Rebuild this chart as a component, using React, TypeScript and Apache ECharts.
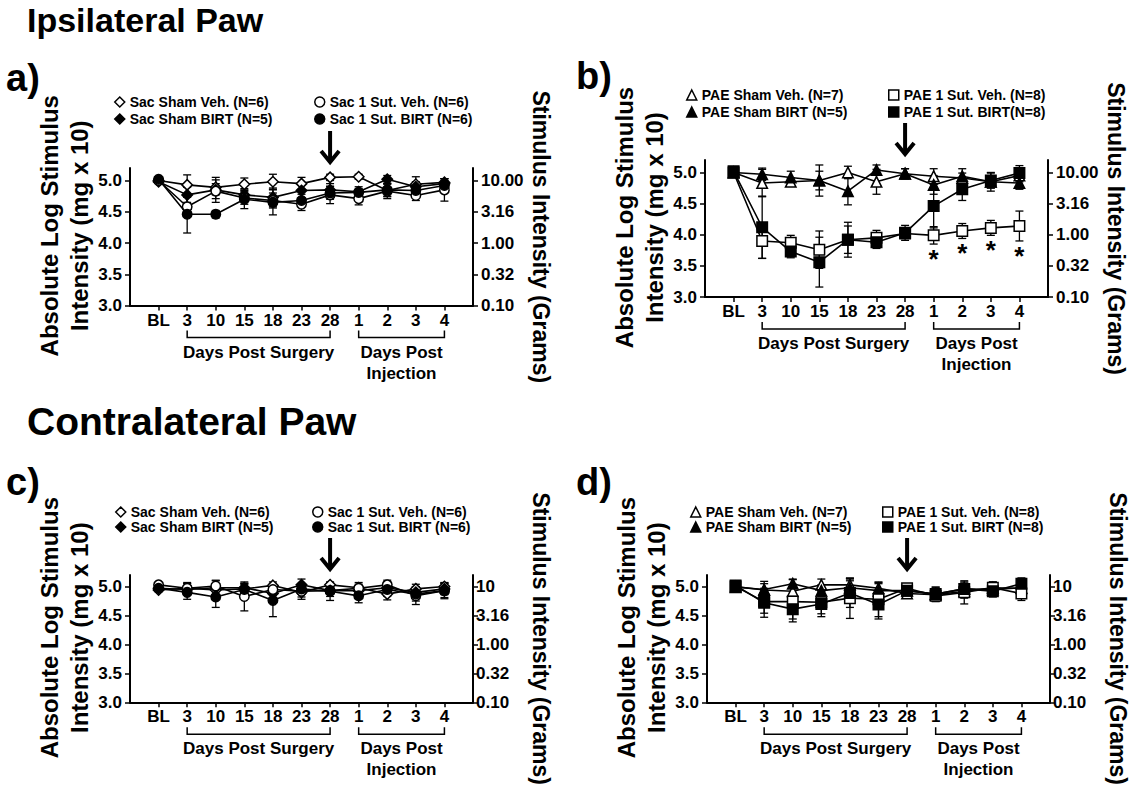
import React, { useEffect, useRef } from 'react';
import * as echarts from 'echarts';

const FONT = "'Liberation Sans', Arial, Helvetica, sans-serif";

// ---------- axis / tick labels ----------
const xLabels = ['BL', '3', '10', '15', '18', '23', '28', '1', '2', '3', '4'];
const xIndex = [0, 1, 2, 3, 4, 5, 6, 7, 8, 9, 10];
const yTicks = [3.0, 3.5, 4.0, 4.5, 5.0];
const rightLabelsTop = ['0.10', '0.32', '1.00', '3.16', '10.00'];
const rightLabelsBottom = ['0.10', '0.32', '1.00', '3.16', '10'];
const bracketRanges = [[1, 6], [7, 10]];
const bracketLabels = ['Days Post Surgery', 'Days Post\nInjection'];
const injectionDayIndex = 6;
const sigIndexB = [7, 8, 9, 10];

// ---------- series names ----------
const sacNames = ['Sac Sham Veh. (N=6)', 'Sac Sham BIRT (N=5)', 'Sac 1 Sut. Veh. (N=6)', 'Sac 1 Sut. BIRT (N=6)'];
const paeNamesB = ['PAE Sham Veh. (N=7)', 'PAE Sham BIRT (N=5)', 'PAE 1 Sut. Veh. (N=8)', 'PAE 1 Sut. BIRT(N=8)'];
const paeNamesD = ['PAE Sham Veh. (N=7)', 'PAE Sham BIRT (N=5)', 'PAE 1 Sut. Veh. (N=8)', 'PAE 1 Sut. BIRT (N=8)'];

// ---------- panel a (ipsilateral, Sac) ----------
const aShamVeh = [5.00, 4.93, 4.89, 4.94, 4.98, 4.95, 5.05, 5.06, 4.84, 4.94, 4.97];
const aShamVehErr = [0.04, 0.16, 0.12, 0.10, 0.12, 0.10, 0.05, 0.04, 0.10, 0.12, 0.06];
const aShamBirt = [4.98, 4.77, 4.85, 4.77, 4.73, 4.84, 4.85, 4.82, 5.02, 4.90, 4.95];
const aShamBirtErr = [0.03, 0.12, 0.20, 0.10, 0.15, 0.12, 0.10, 0.08, 0.06, 0.08, 0.08];
const aSutVeh = [5.00, 4.58, 4.83, 4.72, 4.68, 4.62, 4.77, 4.71, 4.83, 4.76, 4.85];
const aSutVehErr = [0.04, 0.15, 0.12, 0.10, 0.12, 0.10, 0.14, 0.10, 0.12, 0.08, 0.18];
const aSutBirt = [5.02, 4.46, 4.46, 4.70, 4.65, 4.68, 4.80, 4.81, 4.85, 4.84, 4.92];
const aSutBirtErr = [0.04, 0.30, 0.06, 0.15, 0.20, 0.10, 0.10, 0.06, 0.10, 0.10, 0.08];

// ---------- panel b (ipsilateral, PAE) ----------
const bShamVeh = [5.00, 4.83, 4.85, 4.87, 5.00, 4.85, 4.98, 4.94, 4.91, 4.85, 4.95];
const bShamVehErr = [0.03, 0.22, 0.06, 0.15, 0.10, 0.20, 0.08, 0.12, 0.08, 0.10, 0.10];
const bShamBirt = [5.00, 4.97, 4.92, 4.87, 4.70, 5.04, 4.98, 4.80, 4.94, 4.85, 4.83];
const bShamBirtErr = [0.03, 0.10, 0.10, 0.25, 0.22, 0.08, 0.08, 0.15, 0.12, 0.15, 0.10];
const bSutVeh = [5.00, 3.90, 3.87, 3.76, 3.92, 3.95, 4.02, 3.99, 4.06, 4.11, 4.14];
const bSutVehErr = [0.03, 0.28, 0.12, 0.30, 0.22, 0.12, 0.08, 0.14, 0.12, 0.12, 0.24];
const bSutBirt = [5.02, 4.12, 3.73, 3.56, 3.92, 3.88, 4.03, 4.46, 4.73, 4.87, 4.99];
const bSutBirtErr = [0.03, 0.50, 0.10, 0.40, 0.28, 0.10, 0.12, 0.35, 0.18, 0.12, 0.12];

// ---------- panel c (contralateral, Sac) ----------
const cShamVeh = [4.94, 4.97, 4.94, 4.96, 5.02, 4.90, 5.03, 4.98, 4.87, 4.96, 5.00];
const cShamVehErr = [0.03, 0.08, 0.10, 0.08, 0.06, 0.12, 0.04, 0.06, 0.10, 0.08, 0.06];
const cShamBirt = [4.97, 4.95, 4.98, 4.98, 4.88, 5.03, 4.93, 4.93, 4.98, 4.90, 4.96];
const cShamBirtErr = [0.03, 0.10, 0.12, 0.08, 0.12, 0.10, 0.10, 0.08, 0.10, 0.10, 0.10];
const cSutVeh = [5.03, 4.97, 5.01, 4.83, 4.95, 4.92, 4.93, 4.97, 5.03, 4.84, 4.93];
const cSutVehErr = [0.03, 0.10, 0.10, 0.25, 0.10, 0.10, 0.06, 0.10, 0.08, 0.15, 0.12];
const cSutBirt = [4.97, 4.90, 4.82, 4.95, 4.76, 4.96, 4.92, 4.84, 4.95, 4.87, 4.93];
const cSutBirtErr = [0.03, 0.12, 0.18, 0.10, 0.28, 0.08, 0.16, 0.12, 0.12, 0.12, 0.14];

// ---------- panel d (contralateral, PAE) ----------
const dShamVeh = [5.00, 4.94, 4.92, 5.03, 5.03, 4.97, 4.88, 4.86, 4.92, 4.98, 4.97];
const dShamVehErr = [0.03, 0.15, 0.20, 0.10, 0.10, 0.10, 0.08, 0.10, 0.12, 0.10, 0.10];
const dShamBirt = [4.99, 4.95, 5.05, 4.93, 4.98, 4.93, 4.93, 4.87, 4.96, 4.95, 4.98];
const dShamBirtErr = [0.03, 0.10, 0.08, 0.10, 0.12, 0.12, 0.10, 0.12, 0.10, 0.10, 0.12];
const dSutVeh = [5.00, 4.74, 4.74, 4.73, 4.80, 4.78, 4.97, 4.84, 4.90, 4.98, 4.88];
const dSutVehErr = [0.03, 0.20, 0.30, 0.20, 0.35, 0.30, 0.08, 0.10, 0.20, 0.10, 0.12];
const dSutBirt = [5.02, 4.72, 4.61, 4.70, 4.89, 4.69, 4.93, 4.87, 4.96, 4.92, 5.05];
const dSutBirtErr = [0.03, 0.25, 0.22, 0.22, 0.25, 0.25, 0.12, 0.12, 0.12, 0.10, 0.10];

const sacSymbols = ['diamond', 'diamond', 'circle', 'circle'];
const paeSymbols = ['triangle', 'triangle', 'rect', 'rect'];
const fills = ['#ffffff', '#000000', '#ffffff', '#000000'];

const Y_MIN = 3.0;
const Y_MAX = 5.2;

type Panel = {
  grid: { left: number; top: number; width: number; height: number };
  names: string[];
  symbols: string[];
  values: number[][];
  errors: number[][];
  rightLabels: string[];
  rightMargin: number;
  legendCols: number[][];
  legendGap: number;
  sig: number[];
  sigSeries: number;
};

const panels: Panel[] = [
  {
    grid: { left: 130, top: 168, width: 343, height: 137.5 },
    names: sacNames, symbols: sacSymbols,
    values: [aShamVeh, aShamBirt, aSutVeh, aSutBirt],
    errors: [aShamVehErr, aShamBirtErr, aSutVehErr, aSutBirtErr],
    rightLabels: rightLabelsTop, rightMargin: 8,
    legendCols: [[114, 95], [314, 95]], legendGap: 3, sig: [], sigSeries: 2,
  },
  {
    grid: { left: 705, top: 160, width: 343, height: 137 },
    names: paeNamesB, symbols: paeSymbols,
    values: [bShamVeh, bShamBirt, bSutVeh, bSutBirt],
    errors: [bShamVehErr, bShamBirtErr, bSutVehErr, bSutBirtErr],
    rightLabels: rightLabelsTop, rightMargin: 8,
    legendCols: [[686, 88], [888, 88]], legendGap: 3, sig: sigIndexB, sigSeries: 2,
  },
  {
    grid: { left: 130, top: 575, width: 343, height: 140 },
    names: sacNames, symbols: sacSymbols,
    values: [cShamVeh, cShamBirt, cSutVeh, cSutBirt],
    errors: [cShamVehErr, cShamBirtErr, cSutVehErr, cSutBirtErr],
    rightLabels: rightLabelsBottom, rightMargin: 3,
    legendCols: [[115, 505], [312, 505]], legendGap: 1, sig: [], sigSeries: 2,
  },
  {
    grid: { left: 707, top: 575, width: 343, height: 140 },
    names: paeNamesD, symbols: paeSymbols,
    values: [dShamVeh, dShamBirt, dSutVeh, dSutBirt],
    errors: [dShamVehErr, dShamBirtErr, dSutVehErr, dSutBirtErr],
    rightLabels: rightLabelsBottom, rightMargin: 3,
    legendCols: [[690, 505], [882, 505]], legendGap: 1, sig: [], sigSeries: 2,
  },
];

const textBase = { color: '#000', fontFamily: FONT, fontWeight: 'bold' as const };

function buildOption() {
  const grids: any[] = [];
  const xAxes: any[] = [];
  const yAxes: any[] = [];
  const series: any[] = [];
  const legends: any[] = [];

  panels.forEach((p, pi) => {
    grids.push({ ...p.grid, containLabel: false });
    xAxes.push({
      gridIndex: pi, type: 'value', min: -1, max: 11, interval: 1,
      axisLine: { onZero: false, lineStyle: { color: '#000', width: 2 } },
      axisTick: { customValues: xIndex, length: 5, lineStyle: { color: '#000', width: 1.5 } },
      axisLabel: {
        customValues: xIndex, ...textBase, fontSize: 17, margin: 6,
        formatter: (v: number) => (v >= 0 && v <= 10 ? xLabels[Math.round(v)] : ''),
      },
      splitLine: { show: false },
    });
    const yLabelFmt = (v: number) => {
      const i = yTicks.findIndex((t) => Math.abs(t - v) < 1e-6);
      return i >= 0 ? v.toFixed(1) : '';
    };
    yAxes.push({
      gridIndex: pi, type: 'value', position: 'left', min: Y_MIN, max: Y_MAX, interval: 0.5,
      name: 'Absolute Log Stimulus\nIntensity (mg x 10)',
      nameLocation: 'middle', nameGap: 26,
      nameTextStyle: { ...textBase, fontSize: 24, lineHeight: 30, padding: [0, 0, 0, 22] },
      axisLine: { show: true, onZero: false, lineStyle: { color: '#000', width: 2 } },
      axisTick: { show: true, customValues: yTicks, length: 5, lineStyle: { color: '#000', width: 1.5 } },
      axisLabel: { customValues: yTicks, ...textBase, fontSize: 17, margin: 8, formatter: yLabelFmt },
      splitLine: { show: false },
    });
    const rl = p.rightLabels;
    yAxes.push({
      gridIndex: pi, type: 'value', position: 'right', min: Y_MIN, max: Y_MAX, interval: 0.5,
      name: 'Stimulus Intensity (Grams)',
      nameLocation: 'middle', nameGap: 56, nameRotate: -90,
      nameTextStyle: { ...textBase, fontSize: 23 },
      axisLine: { show: true, onZero: false, lineStyle: { color: '#000', width: 2 } },
      axisTick: { show: true, customValues: yTicks, length: 5, lineStyle: { color: '#000', width: 1.5 } },
      axisLabel: {
        customValues: yTicks, ...textBase, fontSize: 17, margin: p.rightMargin,
        formatter: (v: number) => {
          const i = yTicks.findIndex((t) => Math.abs(t - v) < 1e-6);
          return i >= 0 ? rl[i] : '';
        },
      },
      splitLine: { show: false },
    });

    // error bars
    p.values.forEach((vals, si) => {
      const err = p.errors[si];
      series.push({
        type: 'custom', name: p.names[si] + ' SEM', xAxisIndex: pi, yAxisIndex: pi * 2,
        z: 1, silent: true, clip: false,
        encode: { x: 0, y: 1 },
        data: vals.map((v, i) => [i, v, err[i]]),
        renderItem: (params: any, api: any) => {
          const x = api.value(0), m = api.value(1), e = api.value(2);
          const hi = api.coord([x, m + e]);
          const lo = api.coord([x, m - e]);
          const w = 4;
          const st = { stroke: '#000', lineWidth: 1.3 };
          return {
            type: 'group',
            children: [
              { type: 'line', shape: { x1: hi[0], y1: hi[1], x2: lo[0], y2: lo[1] }, style: st },
              { type: 'line', shape: { x1: hi[0] - w, y1: hi[1], x2: hi[0] + w, y2: hi[1] }, style: st },
              { type: 'line', shape: { x1: lo[0] - w, y1: lo[1], x2: lo[0] + w, y2: lo[1] }, style: st },
            ],
          };
        },
      });
    });

    // mean lines with markers
    p.values.forEach((vals, si) => {
      const sym = p.symbols[si];
      series.push({
        type: 'line', name: p.names[si], xAxisIndex: pi, yAxisIndex: pi * 2,
        z: 3 + si,
        data: vals.map((v, i) => [i, v]),
        symbol: sym,
        symbolSize: sym === 'circle' ? 9.5 : 10.5,
        showAllSymbol: true,
        lineStyle: { color: '#000', width: 1.6 },
        itemStyle: { color: fills[si], borderColor: '#000', borderWidth: 1.5 },
        emphasis: { disabled: true },
      });
    });

    // brackets under the x axis
    series.push({
      type: 'custom', name: 'brackets' + pi, xAxisIndex: pi, yAxisIndex: pi * 2,
      silent: true, clip: false, z: 5,
      encode: { x: 0, y: 1 },
      data: bracketRanges.map((r) => [r[0], r[1]]),
      renderItem: (params: any, api: any) => {
        const p1 = api.coord([api.value(0), Y_MIN]);
        const p2 = api.coord([api.value(1), Y_MIN]);
        const y = p1[1] + 32;
        return {
          type: 'group',
          children: [
            {
              type: 'polyline',
              shape: { points: [[p1[0], y - 7], [p1[0], y], [p2[0], y], [p2[0], y - 7]] },
              style: { stroke: '#000', lineWidth: 1.5, fill: null },
            },
            {
              type: 'text',
              style: {
                text: bracketLabels[params.dataIndex], x: (p1[0] + p2[0]) / 2, y: y + 4,
                align: 'center', verticalAlign: 'top', fontSize: 17, fontWeight: 'bold',
                fontFamily: FONT, fill: '#000', lineHeight: 21,
              },
            },
          ],
        };
      },
    });

    // injection arrow
    series.push({
      type: 'custom', name: 'arrow' + pi, xAxisIndex: pi, yAxisIndex: pi * 2,
      silent: true, clip: false, z: 5,
      encode: { x: 0, y: 1 },
      data: [[injectionDayIndex, Y_MAX]],
      renderItem: (params: any, api: any) => {
        const t = api.coord([api.value(0), api.value(1)]);
        const x = t[0];
        const yEnd = t[1] - 5;
        const yStart = yEnd - 32;
        const st = { stroke: '#000', lineWidth: 4, fill: null, lineJoin: 'miter' };
        return {
          type: 'group',
          children: [
            { type: 'line', shape: { x1: x, y1: yStart, x2: x, y2: yEnd - 2 }, style: st },
            { type: 'polyline', shape: { points: [[x - 9, yEnd - 12], [x, yEnd - 1], [x + 9, yEnd - 12]] }, style: st },
          ],
        };
      },
    });

    // significance asterisks
    if (p.sig.length) {
      const vals = p.values[p.sigSeries];
      const errs = p.errors[p.sigSeries];
      series.push({
        type: 'custom', name: 'sig' + pi, xAxisIndex: pi, yAxisIndex: pi * 2,
        silent: true, clip: false, z: 6,
        encode: { x: 0, y: 1 },
        data: p.sig.map((i) => [i, vals[i] - errs[i]]),
        renderItem: (params: any, api: any) => {
          const c = api.coord([api.value(0), api.value(1)]);
          return {
            type: 'text',
            style: {
              text: '*', x: c[0], y: c[1] + 2, align: 'center', verticalAlign: 'top',
              fontSize: 26, fontWeight: 'bold', fontFamily: FONT, fill: '#000',
            },
          };
        },
      });
    }

    // legends (two columns)
    [0, 1].forEach((col) => {
      legends.push({
        orient: 'vertical', left: p.legendCols[col][0], top: p.legendCols[col][1],
        itemWidth: 10, itemHeight: 10, itemGap: p.legendGap, padding: 0,
        selectedMode: false,
        textStyle: { ...textBase, fontSize: 14 },
        data: [col * 2, col * 2 + 1].map((si) => ({
          name: p.names[si],
          icon: p.symbols[si],
          itemStyle: { color: fills[si], borderColor: '#000', borderWidth: 1.5 },
        })),
      });
    });
  });

  const labelStyle = { ...textBase, fontSize: 38 };
  return {
    animation: false,
    backgroundColor: '#ffffff',
    title: [
      { text: 'Ipsilateral Paw', left: 27, top: 3, padding: 0, textStyle: { ...textBase, fontSize: 34 } },
      { text: 'Contralateral Paw', left: 27, top: 402, padding: 0, textStyle: { ...textBase, fontSize: 39 } },
      { text: 'a)', left: 6, top: 59, padding: 0, textStyle: labelStyle },
      { text: 'b)', left: 576, top: 57, padding: 0, textStyle: labelStyle },
      { text: 'c)', left: 6, top: 463, padding: 0, textStyle: labelStyle },
      { text: 'd)', left: 576, top: 463, padding: 0, textStyle: labelStyle },
    ],
    grid: grids,
    xAxis: xAxes,
    yAxis: yAxes,
    legend: legends,
    series,
  };
}

export default function App() {
  const ref = useRef<HTMLDivElement>(null);
  useEffect(() => {
    if (!ref.current) return;
    const chart = echarts.init(ref.current, undefined, { renderer: 'svg' });
    chart.setOption(buildOption() as any);
    return () => chart.dispose();
  }, []);
  return (
    <div
      ref={ref}
      style={{ position: 'absolute', left: 0, top: 0, width: 1131, height: 787, background: '#fff' }}
    />
  );
}
